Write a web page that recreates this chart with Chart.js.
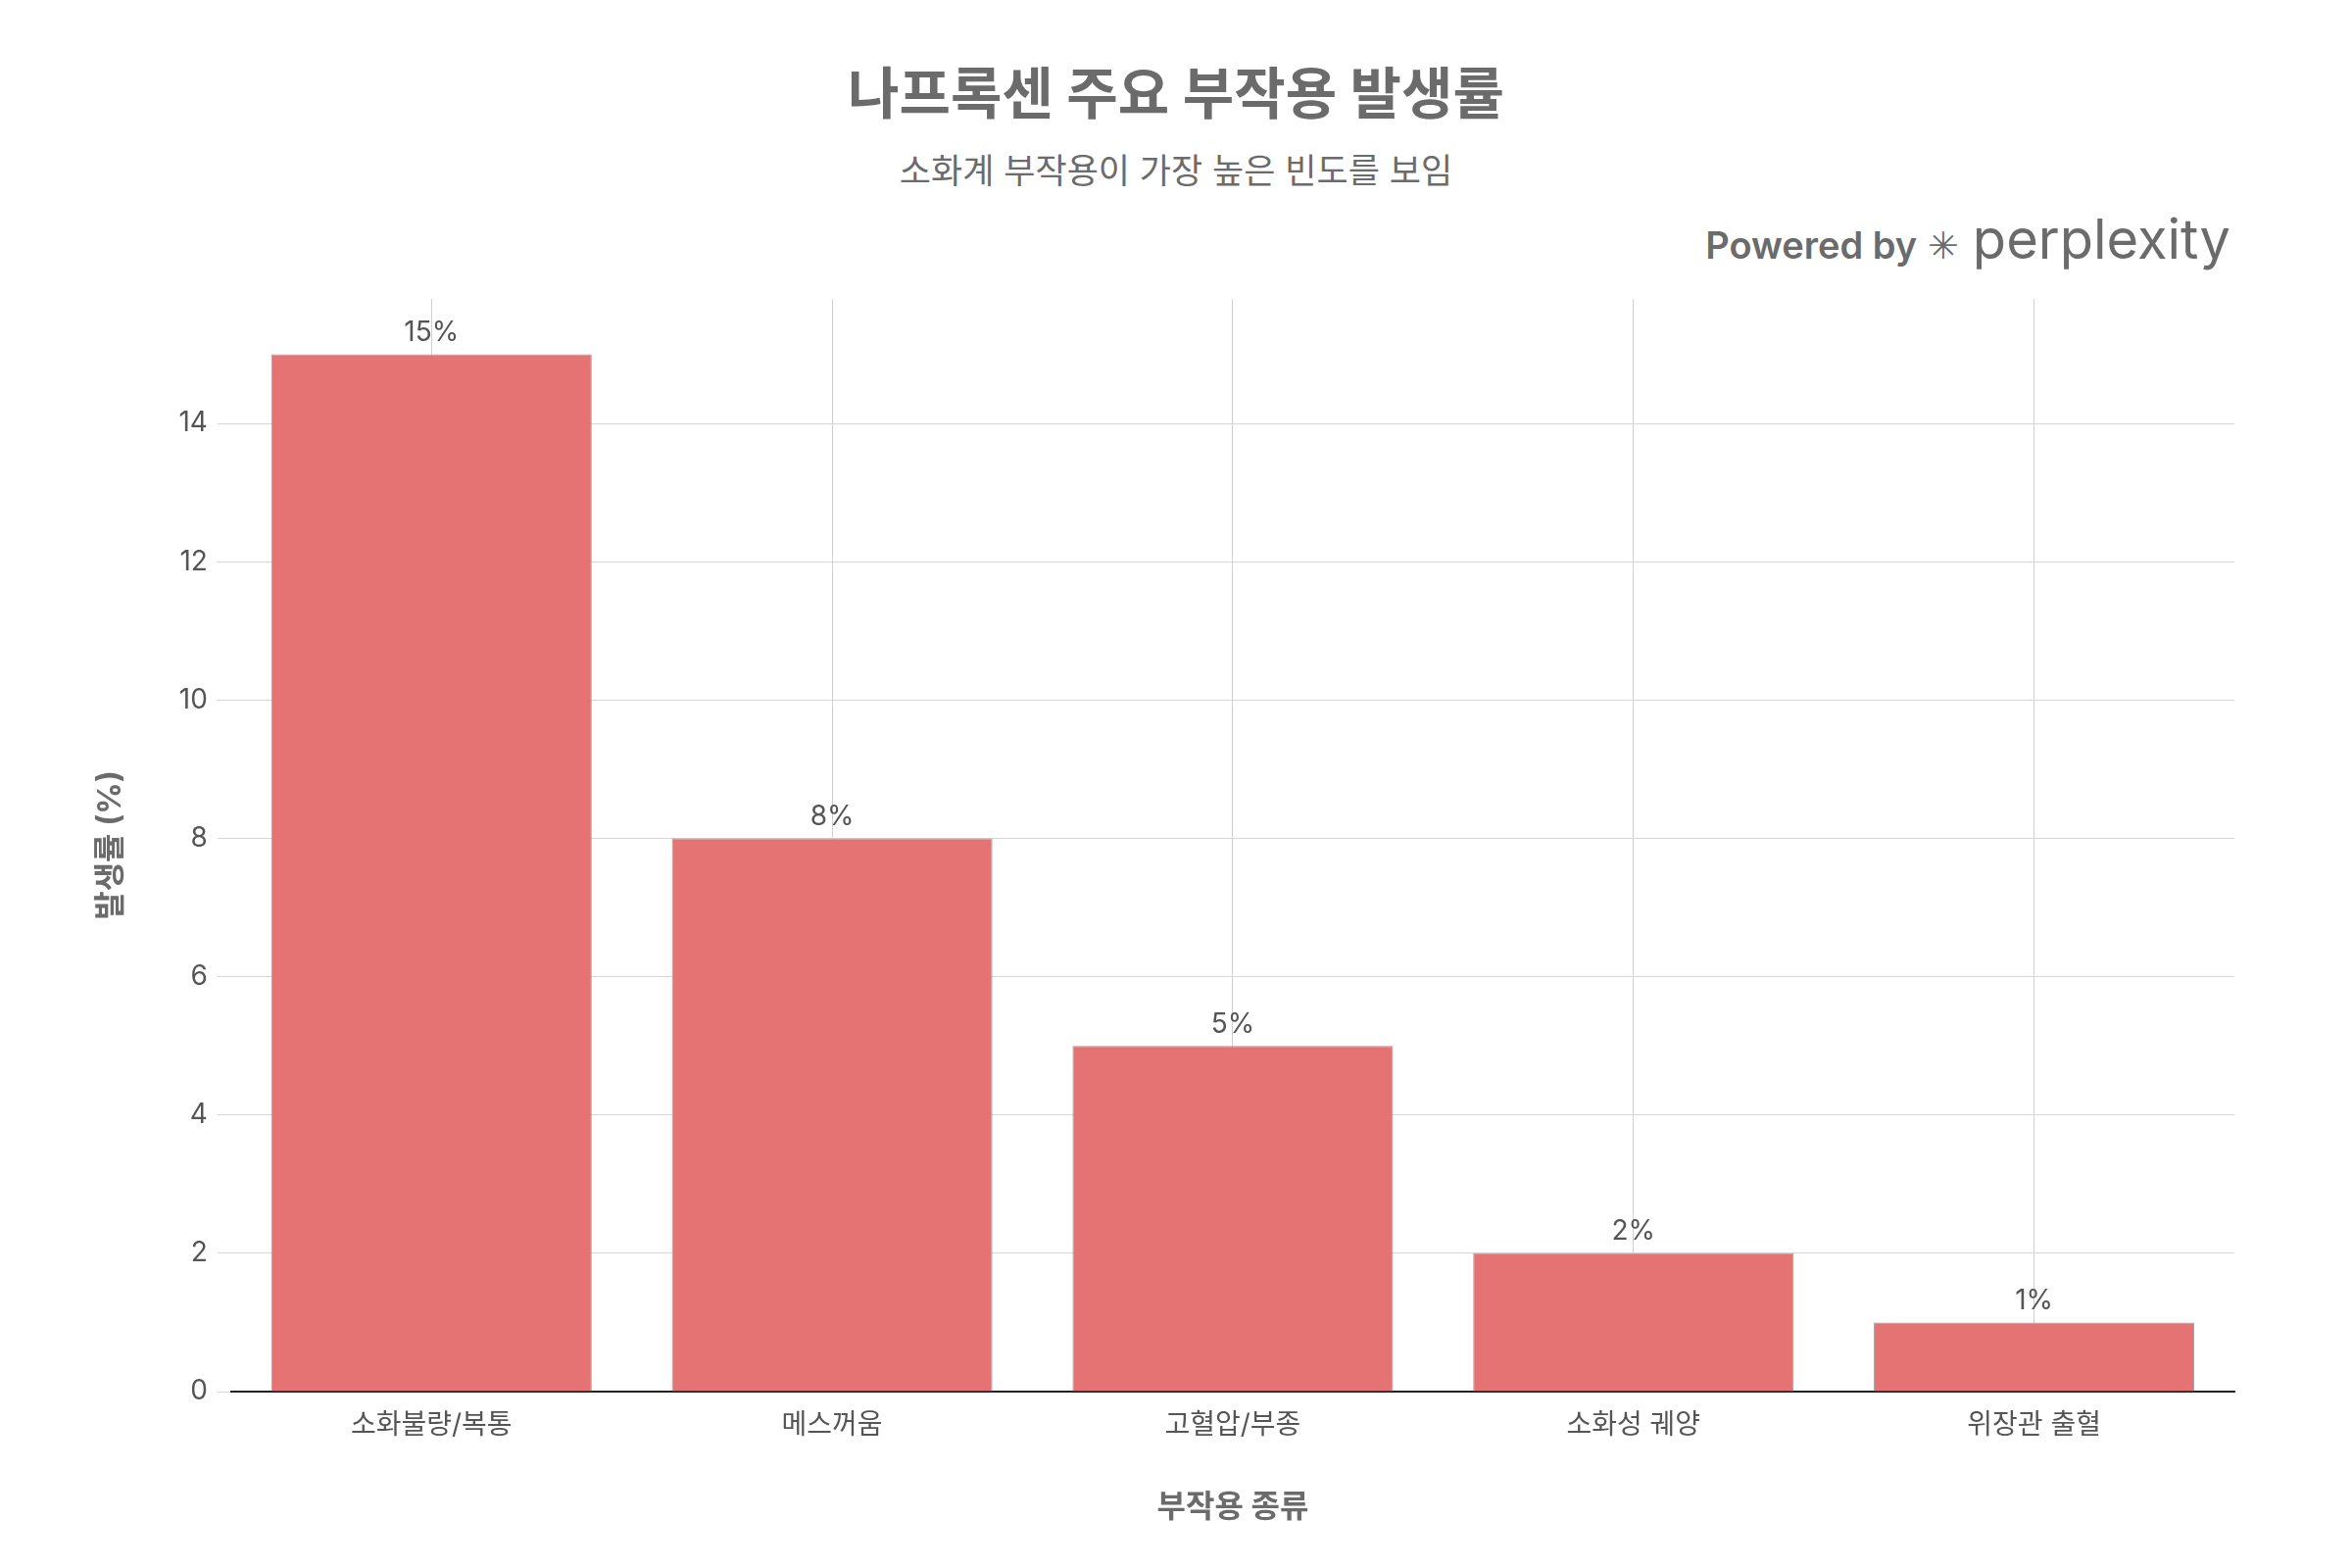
<!DOCTYPE html>
<html>
<head>
<meta charset="utf-8">
<script src="https://cdn.jsdelivr.net/npm/chart.js@4"></script>
<style>
  body { margin: 0; background: #fff; font-family: Inter, 'Noto Sans CJK KR', sans-serif; }
  #wrap { position: relative; width: 2400px; height: 1600px; }
  #title { position: absolute; top: 50px; width: 100%; text-align: center; font-size: 57px; font-weight: bold; color: #6b6b6b; }
  #subtitle { position: absolute; top: 146px; width: 100%; text-align: center; font-size: 35px; color: #6b6b6b; }
  #brand { position: absolute; top: 210px; right: 124px; font-size: 38px; color: #6b6b6b; }
  #brand b { font-weight: 600; }
  #brand span { font-size: 56px; margin-left: 14px; }
  canvas { position: absolute; left: 0; top: 0; }
</style>
</head>
<body>
<div id="wrap">
  <div id="title">나프록센 주요 부작용 발생률</div>
  <div id="subtitle">소화계 부작용이 가장 높은 빈도를 보임</div>
  <div id="brand"><b>Powered by</b> ✳<span>perplexity</span></div>
  <canvas id="c" width="2400" height="1600"></canvas>
</div>
<script>
const categories = ['소화불량/복통', '메스꺼움', '고혈압/부종', '소화성 궤양', '위장관 출혈'];
const rates = [15, 8, 5, 2, 1];
const labelTexts = ['15%', '8%', '5%', '2%', '1%'];

const fontFamily = "Inter, 'Noto Sans CJK KR', sans-serif";

// bar value labels
const valueLabels = {
    id: 'valueLabels',
    afterDatasetsDraw(chart) {
        const c = chart.ctx;
        const meta = chart.getDatasetMeta(0);
        c.save();
        c.font = '28px ' + fontFamily;
        c.fillStyle = '#555';
        c.textAlign = 'center';
        c.textBaseline = 'bottom';
        meta.data.forEach((bar, i) => {
            c.fillText(labelTexts[i], bar.x, bar.y - 8);
        });
        c.restore();
    }
};

new Chart(document.getElementById('c').getContext('2d'), {
    type: 'bar',
    data: {
        labels: categories,
        datasets: [{
            data: rates,
            backgroundColor: '#E57373',
            borderColor: '#9e9e9e',
            borderWidth: 1,
            barPercentage: 0.8,
            categoryPercentage: 1
        }]
    },
    options: {
        responsive: false,
        animation: false,
        devicePixelRatio: 1,
        layout: { padding: { left: 90, right: 120, top: 305, bottom: 38 } },
        plugins: { legend: { display: false }, tooltip: { enabled: false } },
        scales: {
            x: {
                grid: { offset: false, color: '#d0d0d0', drawTicks: false },
                border: { color: '#222', width: 2 },
                ticks: { color: '#555', font: { size: 28, family: fontFamily }, padding: 18 },
                title: { display: true, text: '부작용 종류', color: '#6b6b6b', font: { size: 32, weight: 'bold', family: fontFamily }, padding: { top: 30 } }
            },
            y: {
                min: 0, max: 15.8,
                afterBuildTicks: axis => { axis.ticks = axis.ticks.filter(t => t.value % 2 === 0); },
                grid: { color: '#d6d6d6', tickLength: 14 },
                border: { display: false },
                ticks: {
                    stepSize: 2, color: '#555', font: { size: 28, family: fontFamily }, padding: 10
                },
                title: { display: true, text: '발생률 (%)', color: '#6b6b6b', font: { size: 32, weight: 'bold', family: fontFamily }, padding: { bottom: 40 } }
            }
        }
    },
    plugins: [valueLabels]
});
</script>
</body>
</html>
